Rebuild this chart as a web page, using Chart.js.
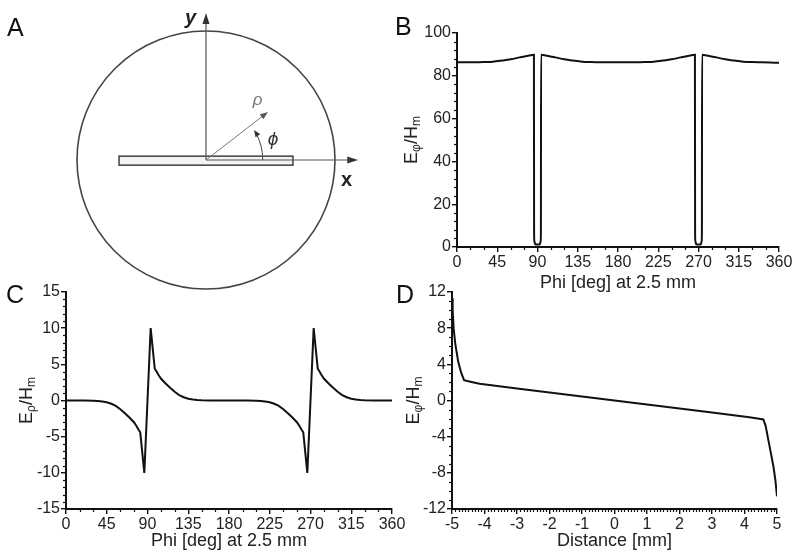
<!DOCTYPE html>
<html>
<head>
<meta charset="utf-8">
<script src="https://cdn.jsdelivr.net/npm/chart.js@4.4.1/dist/chart.umd.min.js"></script>
<style>
  body { margin: 0; background: #fff; }
  #wrap { position: relative; width: 800px; height: 560px; overflow: hidden; }
  #wrap canvas { position: absolute; left: 0; top: 0; }
  .lbl { position: absolute; font: 25px "Liberation Sans", Arial, sans-serif; color: #111; line-height: 1; }
</style>
</head>
<body>
<div id="wrap">
  <canvas id="cA" width="800" height="560"></canvas>
  <canvas id="cB" width="800" height="560"></canvas>
  <canvas id="cC" width="800" height="560"></canvas>
  <canvas id="cD" width="800" height="560"></canvas>
  <div class="lbl" style="left:7px;top:15px">A</div>
  <div class="lbl" style="left:395px;top:14px">B</div>
  <div class="lbl" style="left:6px;top:282px">C</div>
  <div class="lbl" style="left:396px;top:282px">D</div>
</div>
<script>
const FONT = "'Liberation Sans', Arial, sans-serif";

// --- DATA ---
// B: E_phi / H_m vs phi at 2.5 mm
const phiB = [0, 10, 20, 30, 40, 50, 60, 70, 78, 84,
  86, 86.2, 86.6, 87.2, 88.2, 90, 91.8, 92.8, 93.4, 93.8,
  94, 96, 102, 110, 120, 130, 140, 150, 160, 170,
  180, 190, 200, 210, 220, 230, 240, 250, 258, 264,
  266, 266.2, 266.6, 267.2, 268.2, 270, 271.8, 272.8, 273.4, 273.8,
  274, 276, 282, 290, 300, 310, 320, 330, 340, 350, 360];
const efB = [86.3, 86.3, 86.3, 86.4, 86.6, 87.1, 87.7, 88.6, 89.3, 89.7,
  89.8, 6, 2.5, 1.5, 1.2, 1.2, 1.2, 1.5, 2.5, 6,
  89.8, 89.7, 89.3, 88.6, 87.7, 87.1, 86.6, 86.4, 86.3, 86.3,
  86.3, 86.3, 86.3, 86.4, 86.6, 87.1, 87.7, 88.6, 89.3, 89.7,
  89.8, 6, 2.5, 1.5, 1.2, 1.2, 1.2, 1.5, 2.5, 6,
  89.8, 89.7, 89.3, 88.6, 87.7, 87.1, 86.6, 86.4, 86.3, 86.2, 86.1];

// C: E_rho / H_m vs phi at 2.5 mm
const phiC = [0, 10, 20, 30, 35, 40, 45, 50, 55, 60,
  65, 70, 75, 78, 80, 82, 86.5, 93.5, 98, 100,
  102, 105, 110, 115, 120, 125, 130, 135, 140, 145,
  150, 160, 170, 180, 190, 200, 210, 215, 220, 225,
  230, 235, 240, 245, 250, 255, 258, 260, 262, 266.5,
  273.5, 278, 280, 282, 285, 290, 295, 300, 305, 310,
  315, 320, 325, 330, 340, 350, 360];
const erC = [0, 0, -0.01, -0.03, -0.06, -0.13, -0.25, -0.45, -0.75, -1.2,
  -1.75, -2.35, -3.0, -3.55, -4.0, -4.4, -10, 10, 4.4, 4.0,
  3.55, 3.0, 2.35, 1.75, 1.2, 0.75, 0.45, 0.25, 0.13, 0.06,
  0.03, 0.01, 0, 0, 0, -0.01, -0.03, -0.06, -0.13, -0.25,
  -0.45, -0.75, -1.2, -1.75, -2.35, -3.0, -3.55, -4.0, -4.4, -10,
  10, 4.4, 4.0, 3.55, 3.0, 2.35, 1.75, 1.2, 0.75, 0.45,
  0.25, 0.13, 0.06, 0.03, 0.01, 0, 0];

// D: E_phi / H_m vs distance
const distD = [-5, -4.98, -4.95, -4.9, -4.81, -4.72, -4.63, -4.4, -4.15, -3,
  -2, -1, 0, 1, 2, 3, 4.15, 4.4, 4.58, 4.65,
  4.73, 4.8, 4.89, 4.95, 5];
const efD = [11.3, 10.0, 8.0, 6.3, 4.3, 3.1, 2.25, 2.05, 1.85, 1.33,
  0.89, 0.44, 0, -0.44, -0.89, -1.33, -1.85, -2.0, -2.1, -2.8,
  -4.3, -5.6, -7.3, -8.8, -10.6];

// tick labels
const phiTicks = [0, 45, 90, 135, 180, 225, 270, 315, 360];
const efTicksB = [0, 20, 40, 60, 80, 100];
const erTicksC = [-15, -10, -5, 0, 5, 10, 15];
const distTicks = [-5, -4, -3, -2, -1, 0, 1, 2, 3, 4, 5];
const efTicksD = [-12, -8, -4, 0, 4, 8, 12];

Chart.defaults.font.family = FONT;

// minor ticks + axis titles (with subscripts)
const axisExtras = {
  id: 'axisExtras',
  afterDraw(chart, args, o) {
    const ctx = chart.ctx, a = chart.chartArea;
    const sx = chart.scales.x, sy = chart.scales.y;
    ctx.save();
    ctx.strokeStyle = '#111';
    ctx.lineWidth = 1.2;
    const nX = Math.round((sx.max - sx.min) / o.xMinor);
    for (let i = 1; i < nX; i++) {
      const v = sx.min + i * o.xMinor;
      if (o.xTicks.some(t => Math.abs(t - v) < 1e-6)) continue;
      const p = Math.round(sx.getPixelForValue(v)) + 0.5;
      ctx.beginPath(); ctx.moveTo(p, a.bottom); ctx.lineTo(p, a.bottom + 3); ctx.stroke();
    }
    const nY = Math.round((sy.max - sy.min) / o.yMinor);
    for (let i = 1; i < nY; i++) {
      const v = sy.min + i * o.yMinor;
      if (o.yTicks.some(t => Math.abs(t - v) < 1e-6)) continue;
      const p = Math.round(sy.getPixelForValue(v)) + 0.5;
      ctx.beginPath(); ctx.moveTo(a.left - 3, p); ctx.lineTo(a.left, p); ctx.stroke();
    }

    ctx.fillStyle = '#222';
    ctx.font = '18px ' + FONT;
    ctx.textAlign = 'center';
    ctx.textBaseline = 'middle';
    ctx.fillText(o.xTitle, (a.left + a.right) / 2, a.bottom + o.xTitleDy);

    ctx.translate(a.left + o.yTitleDx, (a.top + a.bottom) / 2);
    ctx.rotate(-Math.PI / 2);
    ctx.textAlign = 'left';
    let w = 0;
    o.yTitle.forEach(p => {
      ctx.font = (p.sub ? '12px ' : '18px ') + FONT;
      w += ctx.measureText(p.t).width;
    });
    let x = -w / 2;
    o.yTitle.forEach(p => {
      ctx.font = (p.sub ? '12px ' : '18px ') + FONT;
      ctx.fillText(p.t, x, p.sub ? 5 : 0);
      x += ctx.measureText(p.t).width;
    });
    ctx.restore();
  }
};

function axisOpts(min, max, ticks, fit) {
  return {
    type: 'linear', min: min, max: max,
    afterBuildTicks: s => { s.ticks = ticks.map(v => ({ value: v })); },
    afterFit: fit,
    grid: { drawOnChartArea: false, color: '#111', lineWidth: 1.4, tickLength: 5 },
    border: { display: true, color: '#111', width: 2 },
    ticks: { font: { size: 16 }, color: '#222', padding: 1, maxRotation: 0, autoSkip: false }
  };
}

function makePanel(id, xs, ys, cfg) {
  return new Chart(document.getElementById(id), {
    type: 'line',
    data: {
      datasets: [{
        data: xs.map((x, i) => ({ x: x, y: ys[i] })),
        borderColor: '#111', borderWidth: 2, pointRadius: 0, fill: false,
        tension: cfg.smooth ? 0.4 : 0,
        cubicInterpolationMode: cfg.smooth ? 'monotone' : 'default'
      }]
    },
    options: {
      responsive: false, animation: false, events: [], devicePixelRatio: 1,
      layout: { autoPadding: false, padding: cfg.pad },
      plugins: { legend: { display: false }, tooltip: { enabled: false }, axisExtras: cfg },
      scales: {
        x: axisOpts(cfg.xMin, cfg.xMax, cfg.xTicks, s => { s.height = 30; }),
        y: axisOpts(cfg.yMin, cfg.yMax, cfg.yTicks, s => { s.width = 40; })
      }
    },
    plugins: [axisExtras]
  });
}

makePanel('cB', phiB, efB, {
  smooth: true, xMin: 0, xMax: 360, yMin: 0, yMax: 100,
  xTicks: phiTicks, yTicks: efTicksB, xMinor: 15, yMinor: 4,
  pad: { left: 417, right: 21, top: 33, bottom: 283 },
  xTitle: 'Phi [deg] at 2.5 mm', xTitleDy: 36, yTitleDx: -45,
  yTitle: [{ t: 'E' }, { t: 'φ', sub: true }, { t: '/H' }, { t: 'm', sub: true }]
});

makePanel('cC', phiC, erC, {
  smooth: false, xMin: 0, xMax: 360, yMin: -15, yMax: 15,
  xTicks: phiTicks, yTicks: erTicksC, xMinor: 15, yMinor: 1,
  pad: { left: 26, right: 408, top: 292, bottom: 21 },
  xTitle: 'Phi [deg] at 2.5 mm', xTitleDy: 32, yTitleDx: -39,
  yTitle: [{ t: 'E' }, { t: 'ρ', sub: true }, { t: '/H' }, { t: 'm', sub: true }]
});

makePanel('cD', distD, efD, {
  smooth: false, xMin: -5, xMax: 5, yMin: -12, yMax: 12,
  xTicks: distTicks, yTicks: efTicksD, xMinor: 0.1, yMinor: 1,
  pad: { left: 412, right: 23, top: 292, bottom: 21 },
  xTitle: 'Distance [mm]', xTitleDy: 32, yTitleDx: -38,
  yTitle: [{ t: 'E' }, { t: 'φ', sub: true }, { t: '/H' }, { t: 'm', sub: true }]
});

// --- Panel A: geometry sketch, in units of the circle radius ---
const sketch = {
  stripHalf: 0.674, stripTop: 0.03, stripBottom: -0.04,
  yAxisEnd: 1.14, xAxisEnd: 1.18,
  rhoEnd: [0.48, 0.372], arcR: 0.44, arcDeg: 32
};

function arrow(ctx, x1, y1, x2, y2, len, hw) {
  const ang = Math.atan2(y2 - y1, x2 - x1);
  const c = Math.cos(ang), s = Math.sin(ang);
  ctx.beginPath(); ctx.moveTo(x1, y1); ctx.lineTo(x2 - c * len * 0.6, y2 - s * len * 0.6); ctx.stroke();
  ctx.beginPath();
  ctx.moveTo(x2, y2);
  ctx.lineTo(x2 - len * c + hw * s, y2 - len * s - hw * c);
  ctx.lineTo(x2 - len * c - hw * s, y2 - len * s + hw * c);
  ctx.closePath(); ctx.fill();
}

const sketchPlugin = {
  id: 'sketch',
  afterDraw(chart) {
    const ctx = chart.ctx, sx = chart.scales.x, sy = chart.scales.y;
    const X = v => sx.getPixelForValue(v), Y = v => sy.getPixelForValue(v);
    const r = X(1) - X(0);
    ctx.save();
    // circle
    ctx.strokeStyle = '#444'; ctx.lineWidth = 1.6;
    ctx.beginPath(); ctx.arc(X(0), Y(0), r, 0, Math.PI * 2); ctx.stroke();
    // strip
    ctx.fillStyle = '#f3f3f3'; ctx.strokeStyle = '#333'; ctx.lineWidth = 1.4;
    const sl = X(-sketch.stripHalf), sr = X(sketch.stripHalf), st = Y(sketch.stripTop), sb = Y(sketch.stripBottom);
    ctx.fillRect(sl, st, sr - sl, sb - st);
    ctx.strokeRect(sl, st, sr - sl, sb - st);
    // axes
    ctx.strokeStyle = '#555'; ctx.fillStyle = '#333'; ctx.lineWidth = 1.2;
    arrow(ctx, X(0), Y(0), X(0), Y(sketch.yAxisEnd), 11, 3.5);
    arrow(ctx, X(0), Y(0), X(sketch.xAxisEnd), Y(0), 11, 3.5);
    // rho
    ctx.strokeStyle = '#777'; ctx.fillStyle = '#555'; ctx.lineWidth = 1;
    arrow(ctx, X(0), Y(0), X(sketch.rhoEnd[0]), Y(sketch.rhoEnd[1]), 8, 3);
    // phi arc
    const a1 = sketch.arcDeg * Math.PI / 180, ar = sketch.arcR * r;
    ctx.strokeStyle = '#444'; ctx.fillStyle = '#333';
    ctx.beginPath(); ctx.arc(X(0), Y(0), ar, 0, -a1 + 0.06, true); ctx.stroke();
    const ex = X(0) + ar * Math.cos(a1), ey = Y(0) - ar * Math.sin(a1);
    arrow(ctx, ex + 6 * Math.sin(a1), ey + 6 * Math.cos(a1), ex, ey, 7, 2.8);
    // labels
    ctx.textAlign = 'center'; ctx.textBaseline = 'middle';
    ctx.fillStyle = '#222';
    ctx.font = 'italic bold 20px ' + FONT;
    ctx.fillText('y', X(-0.12), Y(1.10));
    ctx.font = 'bold 20px ' + FONT;
    ctx.fillText('x', X(1.09), Y(-0.155));
    ctx.fillStyle = '#777';
    ctx.font = 'italic 17px ' + FONT;
    ctx.fillText('ρ', X(0.40), Y(0.465));
    ctx.fillStyle = '#333';
    ctx.font = 'italic 19px ' + FONT;
    ctx.fillText('ϕ', X(0.52), Y(0.155));
    ctx.restore();
  }
};

new Chart(document.getElementById('cA'), {
  type: 'scatter',
  data: { datasets: [] },
  options: {
    responsive: false, animation: false, events: [], devicePixelRatio: 1,
    layout: { autoPadding: false, padding: { left: 12.5, right: 400.5, top: 5.2, bottom: 245.2 } },
    plugins: { legend: { display: false }, tooltip: { enabled: false } },
    scales: {
      x: { type: 'linear', min: -1.5, max: 1.5, display: false },
      y: { type: 'linear', min: -1.2, max: 1.2, display: false }
    }
  },
  plugins: [sketchPlugin]
});
</script>
</body>
</html>
